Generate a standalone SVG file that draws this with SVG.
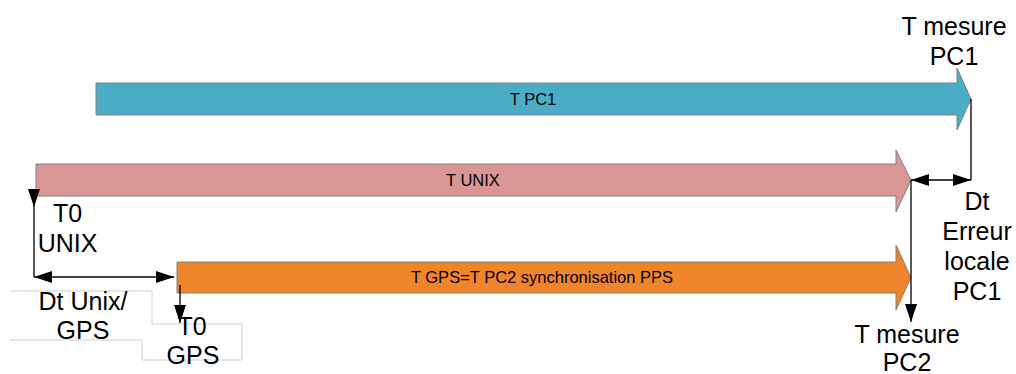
<svg xmlns="http://www.w3.org/2000/svg" width="1016" height="374" viewBox="0 0 1016 374">
<style>
.big{font-family:"Liberation Sans",Arial,sans-serif;font-size:25px;fill:#000;text-anchor:middle}
.lbl{font-family:"Liberation Sans",Arial,sans-serif;font-size:16.5px;fill:#000;text-anchor:middle}
.arr{stroke:#808080;stroke-width:1}
.con{fill:none;stroke:#000;stroke-width:1.3}
</style>
<defs>
<marker id="ah" markerUnits="userSpaceOnUse" markerWidth="18" markerHeight="12" refX="18" refY="6" orient="auto-start-reverse" viewBox="0 0 18 12">
<path d="M0,0 L18,6 L0,12 z" fill="#000"/>
</marker>
</defs>
<rect width="1016" height="374" fill="#fff"/>
<g id="box-labels">
<path d="M10,291 H152 V324 H242 V360 H142 V340 H10" fill="#fff" stroke="#d0d0d0" stroke-width="1"/>
</g>
<g id="t-pc1">
<path class="arr" d="M96,83 H957 V68 L971,99 L957,130 V115 H96 Z" fill="#4bacc6"/>
<text class="lbl" x="533" y="105">T PC1</text>
</g>
<g id="t-unix">
<path class="arr" d="M36,164 H896 V150 L911,180 L896,212 V196 H36 Z" fill="#d99694"/>
<text class="lbl" x="473" y="186">T UNIX</text>
</g>
<g id="t-gps">
<path class="arr" d="M177,262 H896 V245 L911,277.5 L896,310 V293 H177 Z" fill="#f0842a"/>
<text class="lbl" x="542" y="283">T GPS=T PC2 synchronisation PPS</text>
</g>
<g id="connectors">
<path class="con" d="M971,99 V180"/>
<path class="con" d="M911,180 H971" marker-start="url(#ah)" marker-end="url(#ah)"/>
<path class="con" d="M911,180 V322" marker-end="url(#ah)"/>
<path class="con" d="M34,189 V207" marker-end="url(#ah)"/>
<path class="con" d="M34,207 V277"/>
<path class="con" d="M34,277 H174" marker-start="url(#ah)" marker-end="url(#ah)"/>
<path class="con" d="M180,285 V323" marker-end="url(#ah)"/>
</g>
<g id="t-mesure-pc1"><text class="big" x="954" y="35">T mesure</text><text class="big" x="954" y="65">PC1</text></g>
<g id="t0-unix"><text class="big" x="67.5" y="222">T0</text><text class="big" x="67.5" y="252">UNIX</text></g>
<g id="dt-unix-gps"><text class="big" x="83" y="310">Dt Unix/</text><text class="big" x="83" y="339">GPS</text></g>
<g id="t0-gps"><text class="big" x="192" y="335">T0</text><text class="big" x="193" y="364">GPS</text></g>
<g id="dt-erreur"><text class="big" x="977" y="210">Dt</text><text class="big" x="977" y="240">Erreur</text><text class="big" x="977" y="270">locale</text><text class="big" x="977" y="300">PC1</text></g>
<g id="t-mesure-pc2"><text class="big" x="907" y="343">T mesure</text><text class="big" x="907" y="371">PC2</text></g>
</svg>
